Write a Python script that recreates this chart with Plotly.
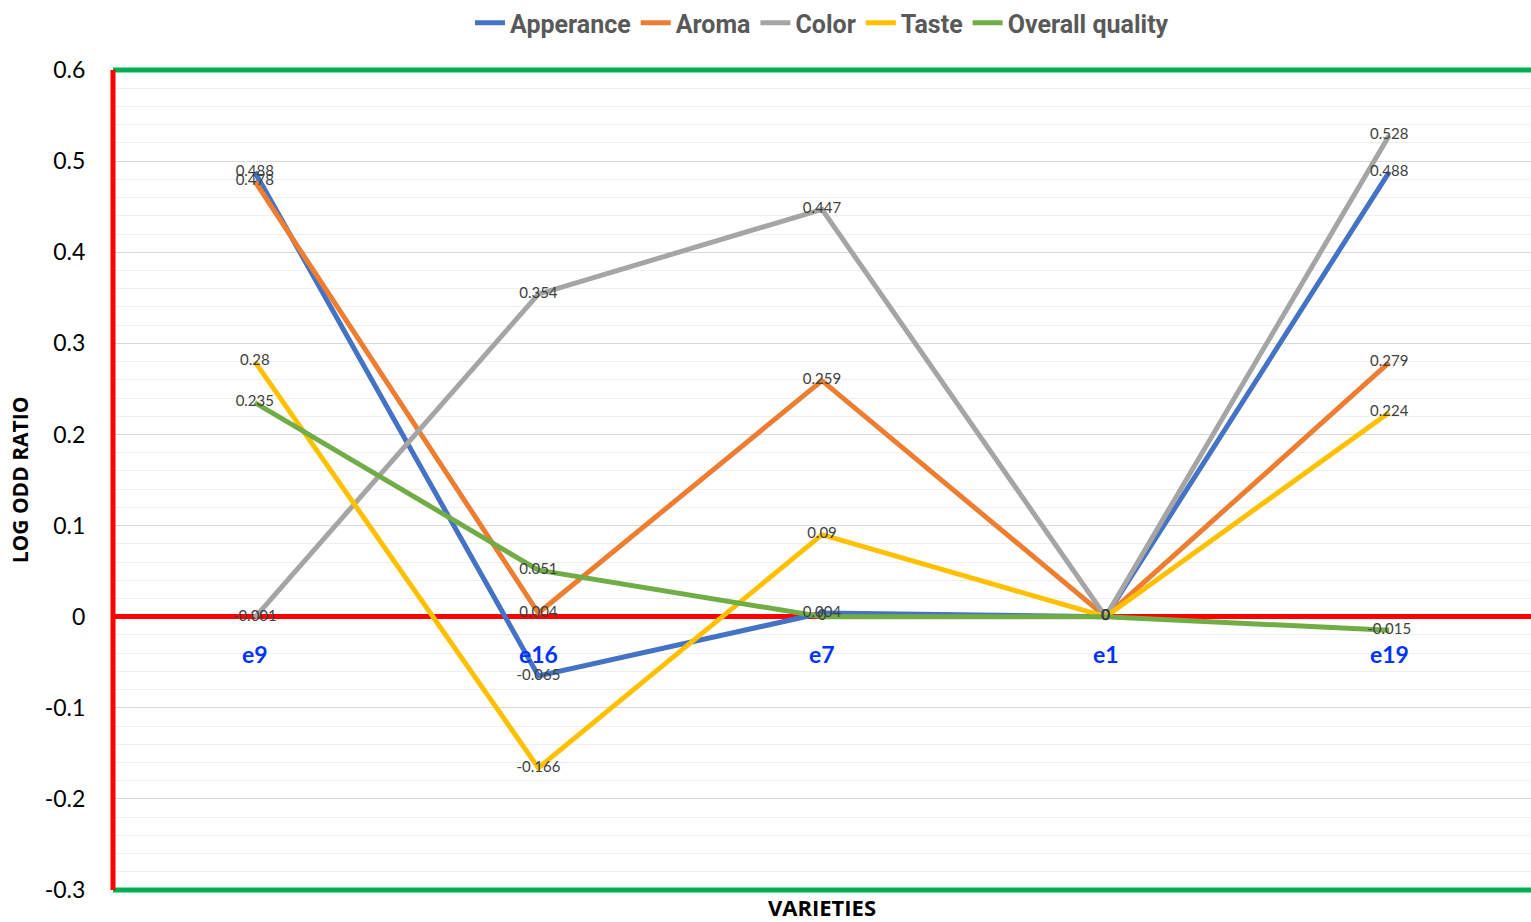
import plotly.graph_objects as go

# Varieties along the x axis
varieties = ["e9", "e16", "e7", "e1", "e19"]

# Log odd ratio per sensory attribute
apperance = [0.488, -0.065, 0.004, 0, 0.488]
aroma = [0.478, 0.004, 0.259, 0, 0.279]
color = [-0.001, 0.354, 0.447, 0, 0.528]
taste = [0.28, -0.166, 0.09, 0, 0.224]
overall_quality = [0.235, 0.051, 0, 0, -0.015]

series_names = ["Apperance", "Aroma", "Color", "Taste", "Overall quality"]
series_values = [apperance, aroma, color, taste, overall_quality]
series_colors = ["#4472C4", "#ED7D31", "#A5A5A5", "#FFC000", "#70AD47"]

# Y axis ticks
y_ticks = [0.6, 0.5, 0.4, 0.3, 0.2, 0.1, 0, -0.1, -0.2, -0.3]
y_tick_labels = ["0.6", "0.5", "0.4", "0.3", "0.2", "0.1", "0", "-0.1", "-0.2", "-0.3"]

legend_font = "Roboto, sans-serif"
body = "Lato, Carlito, Calibri, Open Sans, sans-serif"
wide = "Open Sans, Lato, sans-serif"

fig = go.Figure()

for name, vals, col in zip(series_names, series_values, series_colors):
    fig.add_trace(go.Scatter(
        x=varieties, y=vals, name=name, mode="lines",
        line=dict(color=col, width=5),
    ))

# Value labels drawn above all lines
for name, vals in zip(series_names, series_values):
    fig.add_trace(go.Scatter(
        x=varieties, y=vals, mode="text", showlegend=False, hoverinfo="skip",
        text=[f"{v:g}" for v in vals], textposition="middle center",
        textfont=dict(family=body, size=15, color="#404040"),
    ))

# Category labels sit just under the zero line
for v in varieties:
    fig.add_annotation(
        x=v, y=0, xref="x", yref="y", text=f"<b>{v}</b>", showarrow=False,
        yshift=-37, font=dict(family=body, size=23, color="#0033FF"),
    )

# Plot frame: red left edge, green top and bottom edges
fig.add_shape(type="line", xref="paper", yref="paper", x0=0, x1=1, y0=1, y1=1,
              line=dict(color="#00B050", width=5))
fig.add_shape(type="line", xref="paper", yref="paper", x0=0, x1=1, y0=0, y1=0,
              line=dict(color="#00B050", width=5))
fig.add_shape(type="line", xref="paper", yref="paper", x0=0, x1=0, y0=0, y1=1,
              line=dict(color="#FF0000", width=5))

fig.update_layout(
    width=1531, height=922,
    margin=dict(l=113, r=0, t=70, b=32),
    paper_bgcolor="white", plot_bgcolor="white",
    showlegend=True,
    legend=dict(
        orientation="h", x=0.5, xanchor="center", y=1.0, yanchor="top",
        yref="container",
        font=dict(family=legend_font, size=25, color="#595959", weight="bold"),
        itemwidth=30, tracegroupgap=0, bgcolor="rgba(0,0,0,0)",
    ),
    xaxis=dict(
        type="category", range=[-0.5, 4.5], showgrid=False, zeroline=False,
        showticklabels=False, ticks="", showline=False,
        title=dict(text="<b>VARIETIES</b>", standoff=10,
                   font=dict(family=wide, size=22, color="black")),
    ),
    yaxis=dict(
        range=[-0.3, 0.6], tickvals=y_ticks, ticktext=y_tick_labels,
        tickfont=dict(family=body, size=23, color="black"),
        ticks="outside", ticklen=22, tickcolor="rgba(0,0,0,0)",
        showgrid=True, gridcolor="#D9D9D9", gridwidth=1,
        zeroline=True, zerolinecolor="#FF0000", zerolinewidth=5,
        showline=False,
        minor=dict(dtick=0.02, tick0=0, showgrid=True, gridcolor="#EFEFEF", gridwidth=1),
        title=dict(text="<b>LOG ODD RATIO</b>", standoff=10,
                   font=dict(family=wide, size=21, color="black")),
    ),
)

fig.write_html("out.html")
